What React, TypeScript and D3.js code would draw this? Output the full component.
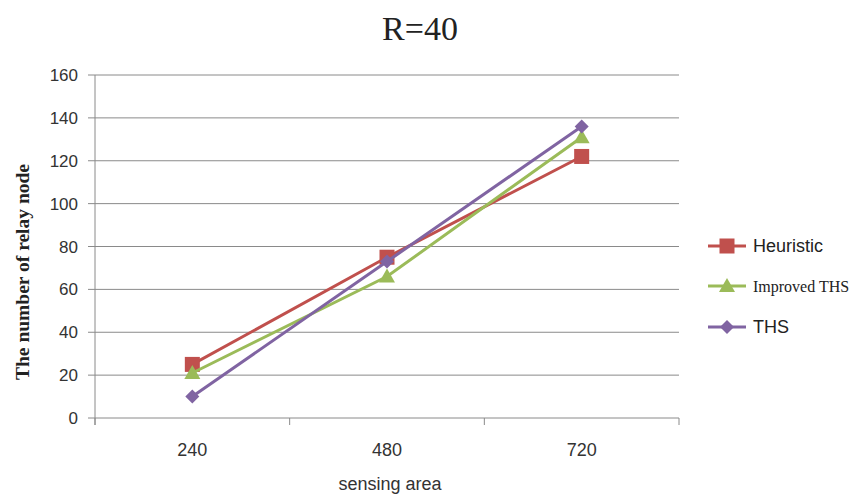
import React from "react";
import * as d3 from "d3";

const categories = ["240", "480", "720"];
const heuristic = [25, 75, 122];
const improvedTHS = [21, 66, 131];
const ths = [10, 73, 136];
const yTicks = [0, 20, 40, 60, 80, 100, 120, 140, 160];

const W = 859, H = 495;
const left = 95, right = 679, top = 75, bottom = 418;

export default function App() {
  const x = d3.scaleBand<string>().domain(categories).range([left, right]);
  const y = d3.scaleLinear().domain([0, 160]).range([bottom, top]);
  const line = d3.line<number>().x((_, i) => (x(categories[i]) as number) + x.bandwidth() / 2).y((d) => y(d));
  const series = [
    { name: "Heuristic", data: heuristic, color: "#C0504D", marker: "square", font: "Liberation Sans", size: 18, ly: 246 },
    { name: "Improved THS", data: improvedTHS, color: "#9BBB59", marker: "triangle", font: "Liberation Serif", size: 16, ly: 286 },
    { name: "THS", data: ths, color: "#8064A2", marker: "diamond", font: "Liberation Sans", size: 18, ly: 327 },
  ];
  const marker = (type: string, cx: number, cy: number, color: string, key: string) => {
    if (type === "square") return <rect key={key} x={cx - 7.5} y={cy - 7.5} width={15} height={15} fill={color} />;
    if (type === "triangle") return <path key={key} d={`M${cx},${cy - 8}L${cx + 8},${cy + 6}L${cx - 8},${cy + 6}Z`} fill={color} />;
    return <path key={key} d={`M${cx},${cy - 7}L${cx + 7},${cy}L${cx},${cy + 7}L${cx - 7},${cy}Z`} fill={color} />;
  };
  const bx = categories.map((c) => x(c) as number).concat([right]);
  return (
    <svg width={W} height={H} style={{ position: "absolute", left: 0, top: 0, background: "#fff" }}>
      <rect width={W} height={H} fill="#fff" />
      <text x={420} y={40} textAnchor="middle" fontFamily="Liberation Serif" fontSize={34} fill="#222">R=40</text>
      {yTicks.map((t) => (
        <g key={t}>
          <line x1={left - 7} x2={right} y1={y(t)} y2={y(t)} stroke="#8a8a8a" strokeWidth={1} />
          <text x={78} y={y(t) + 6} textAnchor="end" fontFamily="Liberation Sans" fontSize={17} fill="#333">{t}</text>
        </g>
      ))}
      <line x1={left} x2={left} y1={top} y2={bottom + 7} stroke="#8a8a8a" strokeWidth={1} />
      {bx.map((v, i) => (
        <line key={i} x1={v} x2={v} y1={bottom} y2={bottom + 7} stroke="#8a8a8a" strokeWidth={1} />
      ))}
      {categories.map((c) => (
        <text key={c} x={(x(c) as number) + x.bandwidth() / 2} y={456} textAnchor="middle" fontFamily="Liberation Sans" fontSize={18} fill="#333">{c}</text>
      ))}
      <text x={390} y={490} textAnchor="middle" fontFamily="Liberation Sans" fontSize={18} fill="#333">sensing area</text>
      <text transform="translate(29,272) rotate(-90)" textAnchor="middle" fontFamily="Liberation Serif" fontWeight="bold" fontSize={19.5} fill="#222">The number of relay node</text>
      {series.map((s) => (
        <g key={s.name}>
          <path d={line(s.data) || ""} fill="none" stroke={s.color} strokeWidth={3} />
          {s.data.map((d, i) => marker(s.marker, (x(categories[i]) as number) + x.bandwidth() / 2, y(d), s.color, s.name + i))}
        </g>
      ))}
      {series.map((s) => (
        <g key={"lg" + s.name}>
          <line x1={708} x2={746} y1={s.ly} y2={s.ly} stroke={s.color} strokeWidth={3} />
          {marker(s.marker, 727, s.ly, s.color, "m" + s.name)}
          <text x={753} y={s.ly + 6} fontFamily={s.font} fontSize={s.size} fill="#222">{s.name}</text>
        </g>
      ))}
    </svg>
  );
}
